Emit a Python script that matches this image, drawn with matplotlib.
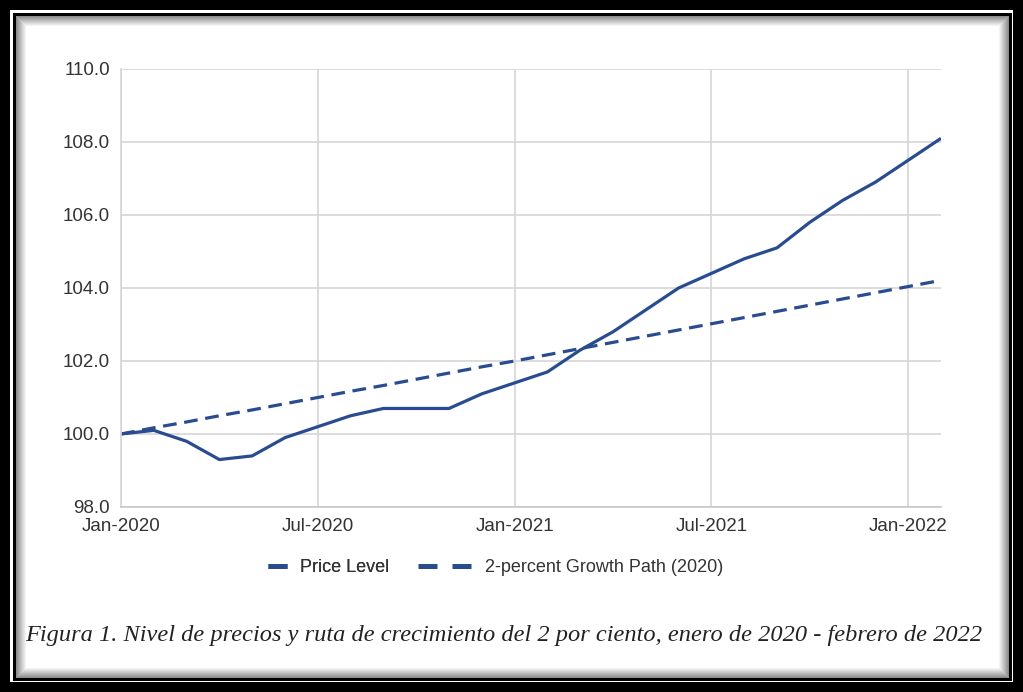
import matplotlib.pyplot as plt
from matplotlib.patches import Rectangle
from matplotlib.lines import Line2D

# monthly values, Jan-2020 .. Feb-2022
price_level = [100.0, 100.1, 99.8, 99.3, 99.4, 99.9, 100.2, 100.5, 100.7, 100.7,
               100.7, 101.1, 101.4, 101.7, 102.3, 102.8, 103.4, 104.0, 104.4, 104.8,
               105.1, 105.8, 106.4, 106.9, 107.5, 108.1]
growth_path = [100.0, 100.17, 100.33, 100.5, 100.66, 100.83, 101.0, 101.17, 101.33, 101.5,
               101.67, 101.84, 102.0, 102.17, 102.34, 102.51, 102.68, 102.85, 103.02, 103.19,
               103.36, 103.53, 103.7, 103.87, 104.04, 104.21]
tick_pos = [0, 6, 12, 18, 24]
tick_labels = ["Jan-2020", "Jul-2020", "Jan-2021", "Jul-2021", "Jan-2022"]
y_ticks = [98, 100, 102, 104, 106, 108, 110]

blue = "#284c8f"
W, H = 1023, 692

fig = plt.figure(figsize=(W / 100, H / 100), dpi=100)
ax = fig.add_axes([121 / W, 1 - 507 / H, (941 - 121) / W, (507 - 69) / H])

months = list(range(len(price_level)))
ax.plot(months, price_level, color=blue, lw=2.3, solid_capstyle="butt")
ax.plot(months, growth_path, color=blue, lw=2.3, dashes=(4.3, 2.4))

ax.set_xlim(0, 25)
ax.set_ylim(98, 110)
ax.set_xticks(tick_pos)
ax.set_xticklabels(tick_labels)
ax.set_yticks(y_ticks)
ax.set_yticklabels([f"{v:.1f}" for v in y_ticks])
ax.grid(True, color="#d6d6d6", lw=1.2)
ax.set_axisbelow(True)
for s in ["top", "right"]:
    ax.spines[s].set_visible(False)
ax.spines["left"].set_color("#d6d6d6")
ax.spines["bottom"].set_color("#c8c8c8")
ax.spines["left"].set_linewidth(1.2)
ax.spines["bottom"].set_linewidth(1.2)
ax.tick_params(length=0, labelsize=13.5, labelcolor="#333333", pad=8,
               labelfontfamily="Liberation Sans")

# two legend entries with different handle lengths
leg_prop = {"family": "Liberation Sans", "size": 13}
leg_y = 1 - 568 / H
leg1 = fig.legend([Line2D([], [], color=blue, lw=3.6, solid_capstyle="butt")], ["Price Level"],
                  loc="center left", bbox_to_anchor=(268 / W, leg_y), frameon=False,
                  prop=leg_prop, labelcolor="#333333", handlelength=1.05,
                  handletextpad=0.72, borderpad=0, borderaxespad=0)
leg2 = fig.legend([Line2D([], [], color=blue, lw=3.6, dashes=(3.8, 3.0), dash_capstyle="butt")],
                  ["2-percent Growth Path (2020)"],
                  loc="center left", bbox_to_anchor=(418 / W, leg_y), frameon=False,
                  prop=leg_prop, labelcolor="#333333", handlelength=3.0,
                  handletextpad=0.72, borderpad=0, borderaxespad=0)
fig.add_artist(leg1)

fig.text(503.5 / W, 1 - 636 / H,
         "Figura 1. Nivel de precios y ruta de crecimiento del 2 por ciento, enero de 2020 - febrero de 2022",
         ha="center", va="center", fontsize=17.6, style="italic",
         family="Liberation Serif", color="#222222")

# frame: thick black, white gap, thin black, soft inner shadow
pix = fig.transFigure
def rect(x0, y0, x1, y1, **kw):
    fig.add_artist(Rectangle((x0 / W, 1 - y1 / H), (x1 - x0) / W, (y1 - y0) / H,
                             transform=pix, **kw))

for i in range(10):
    g = 0.55 + 0.045 * i
    rect(15.5 + i, 15.5 + i, W - 15.5 - i, H - 15.5 - i, fill=False, ec=(g, g, g), lw=0.75)
rect(0, 0, W, H, fill=False, ec="black", lw=14.4)
rect(13.5, 13.5, W - 13.5, H - 13.5, fill=False, ec="black", lw=2.16)

plt.savefig("out.png", dpi=100)
